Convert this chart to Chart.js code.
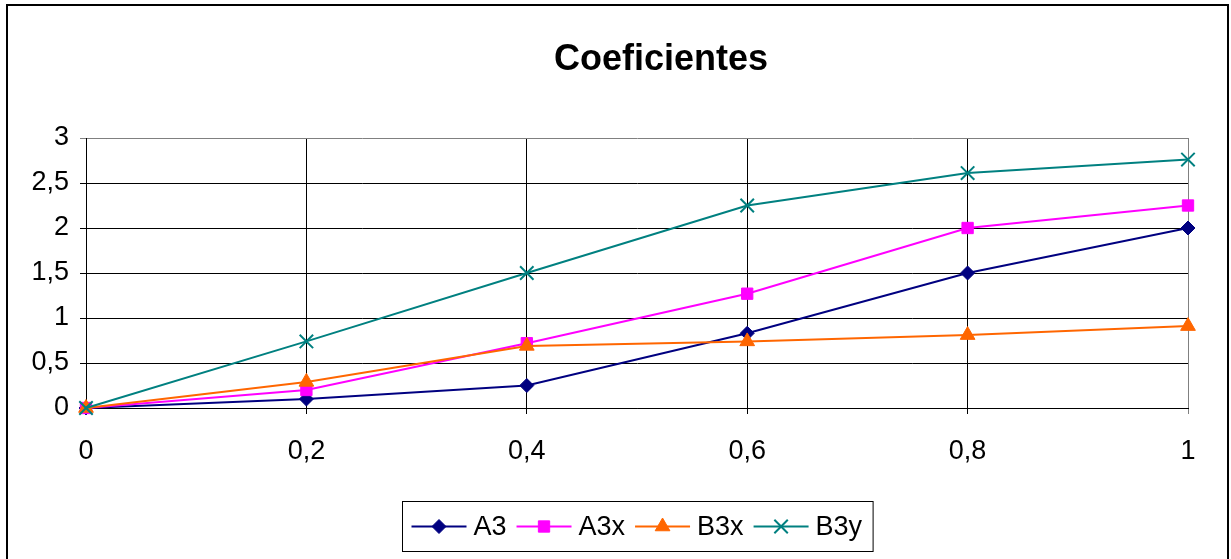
<!DOCTYPE html>
<html lang="es">
<head>
    <meta charset="UTF-8">
    <title>Coeficientes</title>
    <script src="https://cdn.jsdelivr.net/npm/chart.js"></script>
    <style>
        html, body { margin: 0; padding: 0; background: #fff; }
        .chart-box { width: 1231px; height: 559px; position: relative; }
    </style>
</head>
<body>
    <div class="chart-box">
        <canvas id="coefChart"></canvas>
    </div>
    <script>
    // datos
    const xLabels = ['0', '0,2', '0,4', '0,6', '0,8', '1'];
    const serieA3 = [0, 0.1, 0.25, 0.83, 1.5, 2.0];
    const serieA3x = [0, 0.2, 0.72, 1.27, 2.0, 2.25];
    const serieB3x = [0, 0.29, 0.69, 0.74, 0.81, 0.91];
    const serieB3y = [0, 0.74, 1.5, 2.25, 2.61, 2.76];

    const FONT = 'Arial, "Liberation Sans", sans-serif';

    // borde exterior, titulo y leyenda al estilo Excel
    const excelDecor = {
        id: 'excelDecor',
        beforeDraw(chart) {
            const ctx = chart.ctx;
            ctx.save();
            ctx.strokeStyle = '#000';
            ctx.lineWidth = 2;
            ctx.strokeRect(7, 5, 1221, 700);
            ctx.restore();
        },
        afterDraw(chart) {
            const ctx = chart.ctx;
            ctx.save();
            ctx.fillStyle = '#000';
            ctx.font = 'bold 36px ' + FONT;
            ctx.textAlign = 'center';
            ctx.textBaseline = 'middle';
            ctx.fillText('Coeficientes', 661, 60);

            // leyenda
            ctx.font = '27px ' + FONT;
            const sets = chart.data.datasets;
            const lineLen = 55, gapText = 7, gapItem = 10, padL = 9, padR = 11;
            let total = padL + padR;
            sets.forEach((ds, i) => {
                total += lineLen + gapText + ctx.measureText(ds.label).width;
                if (i < sets.length - 1) total += gapItem;
            });
            const cx = (chart.chartArea.left + chart.chartArea.right) / 2;
            const boxL = Math.round(cx - total / 2) + 0.5;
            const boxT = 501.5, boxH = 50;
            ctx.strokeStyle = '#000';
            ctx.lineWidth = 1;
            ctx.strokeRect(boxL, boxT, total, boxH);
            const ly = boxT + boxH / 2;
            let x = boxL + padL;
            sets.forEach(ds => {
                ctx.strokeStyle = ds.borderColor;
                ctx.lineWidth = 2;
                ctx.beginPath();
                ctx.moveTo(x, ly);
                ctx.lineTo(x + lineLen, ly);
                ctx.stroke();
                ctx.fillStyle = ds.pointBackgroundColor;
                ctx.strokeStyle = ds.pointBorderColor;
                ctx.lineWidth = ds.pointBorderWidth;
                Chart.helpers.drawPoint(ctx, {
                    pointStyle: ds.pointStyle,
                    radius: ds.pointRadius,
                    rotation: 0,
                    borderWidth: ds.pointBorderWidth
                }, x + lineLen / 2, ly);
                x += lineLen + gapText;
                ctx.fillStyle = '#000';
                ctx.textAlign = 'left';
                ctx.fillText(ds.label, x, ly + 1);
                x += ctx.measureText(ds.label).width + gapItem;
            });
            ctx.restore();
        }
    };

    function serie(label, data, color, style, radius, order) {
        return {
            label: label,
            data: data,
            borderColor: color,
            backgroundColor: color,
            borderWidth: 2,
            pointStyle: style,
            pointRadius: radius,
            pointHoverRadius: radius,
            pointBackgroundColor: color,
            pointBorderColor: color,
            pointBorderWidth: style === 'crossRot' ? 2 : 1,
            tension: 0,
            clip: false,
            order: order
        };
    }

    const gridColor = (last) => (c) => (c.index === last ? '#808080' : '#000');

    new Chart(document.getElementById('coefChart').getContext('2d'), {
        type: 'line',
        data: {
            labels: xLabels,
            datasets: [
                serie('A3', serieA3, '#000080', 'rectRot', 7, 4),
                serie('A3x', serieA3x, '#FF00FF', 'rect', 8, 3),
                serie('B3x', serieB3x, '#FF6600', 'triangle', 8.5, 2),
                serie('B3y', serieB3y, '#008080', 'crossRot', 9.5, 1)
            ]
        },
        options: {
            responsive: true,
            maintainAspectRatio: false,
            animation: false,
            events: [],
            layout: { padding: { top: 138, left: 0, right: 43, bottom: 0 } },
            plugins: {
                legend: { display: false },
                title: { display: false },
                tooltip: { enabled: false }
            },
            scales: {
                x: {
                    type: 'category',
                    offset: false,
                    afterFit: (s) => { s.height = 151; },
                    grid: { color: gridColor(xLabels.length - 1), lineWidth: 1, tickLength: 6 },
                    border: { color: '#000', width: 1 },
                    ticks: { color: '#000', font: { family: FONT, size: 27 }, padding: 21, maxRotation: 0 }
                },
                y: {
                    min: 0,
                    max: 3,
                    afterFit: (s) => { s.width = 86; },
                    grid: { color: gridColor(6), lineWidth: 1, tickLength: 6 },
                    border: { color: '#000', width: 1 },
                    ticks: {
                        stepSize: 0.5,
                        color: '#000',
                        font: { family: FONT, size: 27 },
                        padding: 11,
                        callback: (v) => String(v).replace('.', ',')
                    }
                }
            }
        },
        plugins: [excelDecor]
    });
    </script>
</body>
</html>
